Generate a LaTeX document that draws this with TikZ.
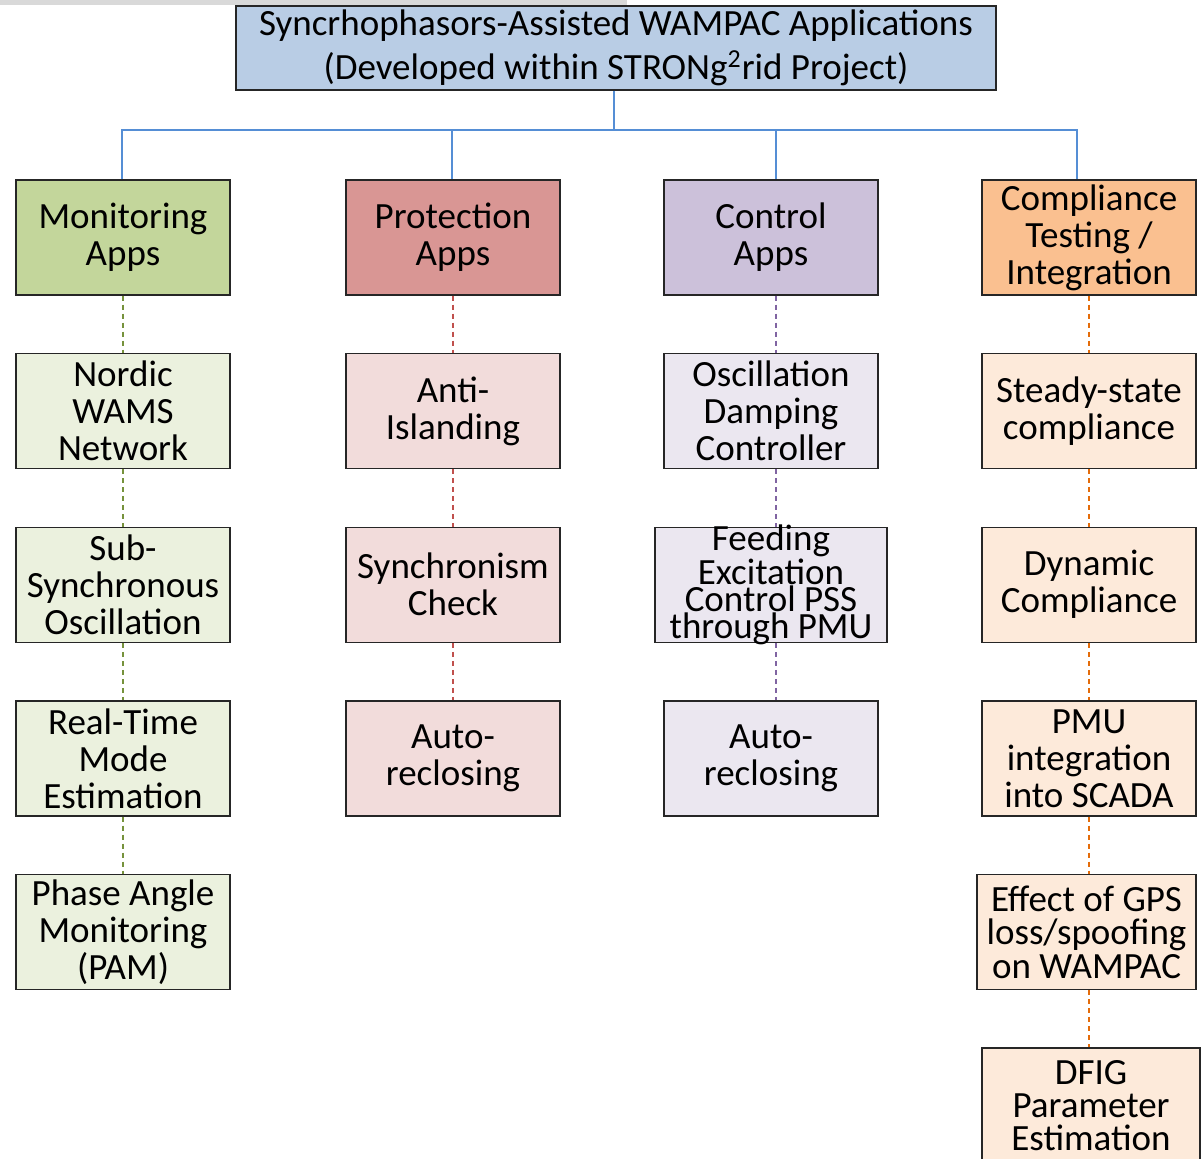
\documentclass[tikz,border=0pt]{standalone}
\usepackage{fontspec}
\setmainfont{Carlito}
\usepackage{xcolor}
\usepackage{tikz}
\usetikzlibrary{arrows.meta,positioning}

\definecolor{titleblue}{HTML}{B9CDE5}
\definecolor{busblue}{HTML}{558ED5}
\definecolor{monfill}{HTML}{C3D69B}
\definecolor{monlight}{HTML}{EBF1DE}
\definecolor{monline}{HTML}{76923C}
\definecolor{protfill}{HTML}{D99694}
\definecolor{protlight}{HTML}{F2DCDB}
\definecolor{protline}{HTML}{C0504D}
\definecolor{ctrlfill}{HTML}{CCC1DA}
\definecolor{ctrllight}{HTML}{EBE7F0}
\definecolor{ctrlline}{HTML}{8064A2}
\definecolor{compfill}{HTML}{FAC090}
\definecolor{complight}{HTML}{FDEADA}
\definecolor{compline}{HTML}{E46C0A}

\begin{document}
\begin{tikzpicture}[
  x=0.5pt, y=-0.5pt,
  node distance=28.6pt,
  box/.style={draw=black!85, line width=0.7pt, align=center, inner sep=1pt,
    minimum width=107pt, minimum height=57.5pt,
    font=\fontsize{18.5}{18.5}\selectfont},
  tree/.style={busblue, line width=1.4pt},
  link/.style={line width=1.1pt, dash pattern=on 2.5pt off 2pt}
]
\useasboundingbox (0,0) rectangle (1202,1159);
\fill[black!15] (0,0) rectangle (627,5);
\node[box, fill=titleblue, minimum width=380pt, minimum height=42pt,
  font=\fontsize{18.5}{22}\selectfont] (top) at (616,48)
  {Syncrhophasors-Assisted WAMPAC Applications\\(Developed within STRONg\textsuperscript{2}rid Project)};
\node[box, fill=monfill] (mon) at (123,237.5) {Monitoring\\Apps};
\node[box, fill=protfill] (prot) at (453,237.5) {Protection\\Apps};
\node[box, fill=ctrlfill] (ctrl) at (771,237.5) {Control\\Apps};
\node[box, fill=compfill] (comp) at (1089,237.5) {Compliance\\Testing /\\Integration};
\node[box, fill=monlight, below=of mon] (nordic) {Nordic\\WAMS\\Network};
\node[box, fill=monlight, below=of nordic] (subsync) {Sub-\\Synchronous\\Oscillation};
\node[box, fill=monlight, below=of subsync] (rtme) {Real-Time\\Mode\\Estimation};
\node[box, fill=monlight, below=of rtme] (pam) {Phase Angle\\Monitoring\\(PAM)};
\node[box, fill=protlight, below=of prot] (antiisl) {Anti-\\Islanding};
\node[box, fill=protlight, below=of antiisl] (syncchk) {Synchronism\\Check};
\node[box, fill=protlight, below=of syncchk] (autorecp) {Auto-\\reclosing};
\node[box, fill=ctrllight, below=of ctrl] (odc) {Oscillation\\Damping\\Controller};
\node[box, fill=ctrllight, below=of odc, minimum width=116pt, inner ysep=-2pt,
  font=\fontsize{18.5}{13.5}\selectfont] (feedpss) {Feeding\\Excitation\\Control PSS\\through PMU};
\node[box, fill=ctrllight, below=of feedpss] (autorecc) {Auto-\\reclosing};
\node[box, fill=complight, below=of comp] (steady) {Steady-state\\compliance};
\node[box, fill=complight, below=of steady] (dynamic) {Dynamic\\Compliance};
\node[box, fill=complight, below=of dynamic] (pmuscada) {PMU\\integration\\into SCADA};
\node[box, fill=complight, below=of pmuscada, minimum width=109.5pt, xshift=-1.25pt,
  font=\fontsize{18.5}{16.75}\selectfont] (gpsloss) {Effect of GPS\\loss/spoofing\\on WAMPAC};
\node[box, fill=complight, below=of gpsloss, minimum width=109pt, xshift=2.25pt,
  font=\fontsize{18.5}{16.5}\selectfont] (dfig) {DFIG\\Parameter\\Estimation};
\coordinate (bus) at (614,130);
\coordinate (j1) at (122,130);
\coordinate (j2) at (452,130);
\coordinate (j3) at (776,130);
\coordinate (j4) at (1077,130);
\draw[tree] (top.south -| bus) -- (bus);
\draw[tree] (mon.north -| j1) -- (j1) -- (j4) -- (comp.north -| j4);
\draw[tree] (j2) -- (prot.north -| j2);
\draw[tree] (j3) -- (ctrl.north -| j3);
\draw[link, monline] (mon) -- (nordic);
\draw[link, monline] (nordic) -- (subsync);
\draw[link, monline] (subsync) -- (rtme);
\draw[link, monline] (rtme) -- (pam);
\draw[link, protline] (prot) -- (antiisl);
\draw[link, protline] (antiisl) -- (syncchk);
\draw[link, protline] (syncchk) -- (autorecp);
\draw[link, ctrlline] (ctrl.south -| j3) -- (odc.north -| j3);
\draw[link, ctrlline] (odc.south -| j3) -- (feedpss.north -| j3);
\draw[link, ctrlline] (feedpss.south -| j3) -- (autorecc.north -| j3);
\draw[link, compline] (comp) -- (steady);
\draw[link, compline] (steady) -- (dynamic);
\draw[link, compline] (dynamic) -- (pmuscada);
\draw[link, compline] (pmuscada.south) -- (gpsloss.north -| pmuscada.south);
\draw[link, compline] (gpsloss.south -| pmuscada.south) -- (dfig.north -| pmuscada.south);
\end{tikzpicture}
\end{document}
